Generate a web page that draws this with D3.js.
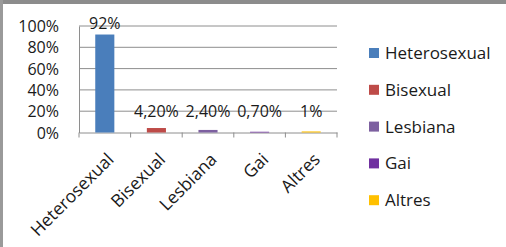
<!DOCTYPE html>
<html>
<head>
<meta charset="utf-8">
<script src="https://cdn.jsdelivr.net/npm/d3@7"></script>
<style>
  body { margin: 0; background: #fff; }
  svg text { font-family: "Open Sans", sans-serif; fill: #1a1a1a; }
</style>
</head>
<body>
<svg id="chart" width="506" height="247"></svg>
<script>
var categories = ["Heterosexual", "Bisexual", "Lesbiana", "Gai", "Altres"];
var values = [92, 4.2, 2.4, 0.7, 1];
var valueLabels = ["92%", "4,20%", "2,40%", "0,70%", "1%"];
var colors = ["#4a7ebb", "#be4b48", "#7d60a0", "#7030a0", "#ffc000"];
var yTicks = [0, 20, 40, 60, 80, 100];

var svg = d3.select('#chart');
var width = 506, height = 247;

// grey frame on top and left
svg.append('rect').attr('x', 0).attr('y', 0).attr('width', width).attr('height', 4).attr('fill', '#8c8c8c');
svg.append('rect').attr('x', 0).attr('y', 0).attr('width', 3).attr('height', height).attr('fill', '#9a9a9a');

var plotLeft = 79, plotRight = 337, plotTop = 26, plotBottom = 132.5;

var x = d3.scaleBand()
    .domain(categories)
    .range([plotLeft, plotRight])
    .paddingInner(0.63)
    .paddingOuter(0.315);

var y = d3.scaleLinear()
    .domain([0, 100])
    .range([plotBottom, plotTop]);

// gridlines
svg.selectAll('line.grid')
    .data(yTicks.slice(1))
    .enter()
    .append('line')
    .attr('class', 'grid')
    .attr('x1', plotLeft).attr('x2', plotRight)
    .attr('y1', d => y(d)).attr('y2', d => y(d))
    .attr('stroke', '#8e8e8e')
    .attr('stroke-width', 1);

// y axis
var yAxis = d3.axisLeft(y)
    .tickValues(yTicks)
    .tickFormat(d => d + '%')
    .tickSize(0)
    .tickPadding(20);

var gy = svg.append('g')
    .attr('transform', 'translate(' + plotLeft + ',0)')
    .call(yAxis);
gy.select('.domain').attr('stroke', '#8e8e8e');
gy.selectAll('text').style('font-size', '16px').attr('dy', '0.35em')
    .style('font-family', '"Open Sans", sans-serif').attr('fill', '#1a1a1a');

// x axis
var xAxis = d3.axisBottom(x).tickSize(0).tickFormat('');
var gx = svg.append('g')
    .attr('transform', 'translate(0,' + plotBottom + ')')
    .call(xAxis);
gx.select('.domain').attr('stroke', '#8e8e8e');

// tick marks between categories
var bounds = d3.range(categories.length + 1).map(i => plotLeft + i * (plotRight - plotLeft) / categories.length);
svg.selectAll('line.xtick')
    .data(bounds)
    .enter()
    .append('line')
    .attr('class', 'xtick')
    .attr('x1', d => d).attr('x2', d => d)
    .attr('y1', plotBottom).attr('y2', plotBottom + 5)
    .attr('stroke', '#8e8e8e');

// bars
svg.selectAll('rect.bar')
    .data(values)
    .enter()
    .append('rect')
    .attr('class', 'bar')
    .attr('x', (d, i) => x(categories[i]))
    .attr('width', x.bandwidth())
    .attr('y', d => y(d))
    .attr('height', d => plotBottom - y(d))
    .attr('fill', (d, i) => colors[i]);

// value labels
svg.selectAll('text.val')
    .data(values)
    .enter()
    .append('text')
    .attr('class', 'val')
    .attr('x', (d, i) => x(categories[i]) + x.bandwidth() / 2)
    .attr('y', d => Math.min(y(d), plotBottom - 10) - 6)
    .attr('text-anchor', 'middle')
    .style('font-size', '16px')
    .text((d, i) => valueLabels[i]);

// category labels
svg.selectAll('text.cat')
    .data(categories)
    .enter()
    .append('text')
    .attr('class', 'cat')
    .attr('text-anchor', 'end')
    .attr('transform', d => 'translate(' + (x(d) + x.bandwidth() / 2 + 10) + ',' + (plotBottom + 28) + ') rotate(-45)')
    .style('font-size', '17.5px')
    .text(d => d);

// legend
var legend = svg.selectAll('g.leg')
    .data(categories)
    .enter()
    .append('g')
    .attr('class', 'leg')
    .attr('transform', (d, i) => 'translate(369,' + (53 + i * 36.8) + ')');

legend.append('rect')
    .attr('x', 0).attr('y', -5)
    .attr('width', 10).attr('height', 10)
    .attr('fill', (d, i) => colors[i]);

legend.append('text')
    .attr('x', 16)
    .attr('dy', '0.35em')
    .style('font-size', '17px')
    .text(d => d);
</script>
</body>
</html>
